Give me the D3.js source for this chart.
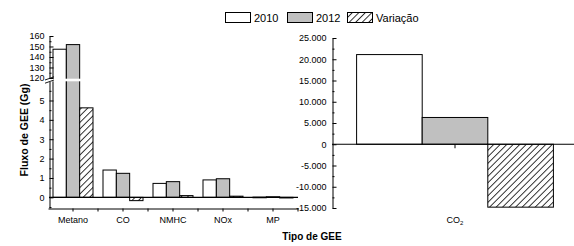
<!DOCTYPE html>
<html><head><meta charset="utf-8">
<script src="https://cdn.jsdelivr.net/npm/d3@7"></script>
<style>
body{margin:0;background:#fff}
text{font-family:"Liberation Sans",Arial,sans-serif;fill:#000}
</style>
</head><body>
<svg id="c" width="574" height="246"></svg>
<script>
// ---- data ----
const categories = ["Metano", "CO", "NMHC", "NOx", "MP"];
const seriesNames = ["2010", "2012", "Variação"];
const values2010 = [147.4, 1.41, 0.72, 0.90, 0.01];
const values2012 = [151.8, 1.24, 0.81, 0.96, 0.03];
const valuesVar  = [4.62, -0.17, 0.09, 0.06, -0.02];
const co2Category = ["CO2"];
const co2_2010 = [21100];
const co2_2012 = [6300];
const co2_var  = [-14800];
const upperTicks = [120, 130, 140, 150, 160];
const lowerTicks = [0, 1, 2, 3, 4, 5];
const co2Ticks = [-15000, -10000, -5000, 0, 5000, 10000, 15000, 20000, 25000];

const leftData = {"2010": values2010, "2012": values2012, "Variação": valuesVar};
const rightData = {"2010": co2_2010, "2012": co2_2012, "Variação": co2_var};

const svg = d3.select("#c");
svg.append("rect").attr("width",574).attr("height",246).attr("fill","#fff");
const defs = svg.append("defs");
const pat = defs.append("pattern").attr("id","hatch").attr("patternUnits","userSpaceOnUse")
  .attr("width",4.6).attr("height",4.6).attr("patternTransform","rotate(45)");
pat.append("rect").attr("width",4.6).attr("height",4.6).attr("fill","#fff");
pat.append("line").attr("x1",0.5).attr("y1",-1).attr("x2",0.5).attr("y2",6).attr("stroke","#000").attr("stroke-width",0.8);

const fills = {"2010":"#ffffff","2012":"#c0c0c0","Variação":"url(#hatch)"};

// ---- left panel ----
const xL = d3.scaleBand().domain(categories).range([48,298]).paddingInner(0.2).paddingOuter(0.1);
const xLs = d3.scaleBand().domain(seriesNames).range([0, xL.bandwidth()]);
const yUp = d3.scaleLinear().domain([119.5,160]).range([78.5,36]);
const yLo = d3.scaleLinear().domain([-0.55,5.98]).range([208,81.5]);
const loMax = yLo.domain()[1];

const gL = svg.append("g");
categories.forEach((c,i)=>{
  seriesNames.forEach(s=>{
    const v = leftData[s][i];
    const y0 = yLo(0);
    let top, bot;
    if (v > loMax) { top = yUp(v); bot = y0; }
    else { top = Math.min(yLo(v), y0); bot = Math.max(yLo(v), y0); }
    gL.append("rect").attr("x", xL(c)+xLs(s)).attr("y", top)
      .attr("width", xLs.bandwidth()).attr("height", Math.max(bot-top,0.6))
      .attr("fill", fills[s]).attr("stroke","#000").attr("stroke-width",1);
  });
});
// break gap
svg.append("rect").attr("x",40).attr("y",yUp(119.5)+0.2).attr("width",260)
  .attr("height",yLo(loMax)-yUp(119.5)-0.4).attr("fill","#fff");

// zero line left
svg.append("line").attr("x1",49).attr("x2",298).attr("y1",yLo(0)).attr("y2",yLo(0))
  .attr("stroke","#000").attr("stroke-width",1.2);

function styleAxis(g, fs){
  g.selectAll("path,line").attr("stroke","#000");
  g.selectAll("text").attr("font-size",fs).attr("font-family",'"Liberation Sans",Arial,sans-serif');
}
const gu = svg.append("g").attr("transform","translate(49.5,0)")
  .call(d3.axisLeft(yUp).tickValues(upperTicks).tickSize(-4).tickSizeOuter(0).tickPadding(5).tickFormat(d3.format("d")));
styleAxis(gu, 9);
const gum = svg.append("g").attr("transform","translate(49.5,0)")
  .call(d3.axisLeft(yUp).tickValues([125,135,145,155]).tickSize(-2).tickFormat(""));
gum.select(".domain").remove(); styleAxis(gum,9);

const gl = svg.append("g").attr("transform","translate(49.5,0)")
  .call(d3.axisLeft(yLo).tickValues(lowerTicks).tickSize(-4).tickSizeOuter(0).tickPadding(5).tickFormat(d3.format("d")));
styleAxis(gl, 9);
const glm = svg.append("g").attr("transform","translate(49.5,0)")
  .call(d3.axisLeft(yLo).tickValues([-0.5,0.5,1.5,2.5,3.5,4.5,5.5]).tickSize(-2).tickFormat(""));
glm.select(".domain").remove(); styleAxis(glm,9);

// break marks
const yb = (yUp(119.5)+yLo(loMax))/2;
[-1.6,1.6].forEach(d=>{
  svg.append("line").attr("x1",45).attr("x2",54).attr("y1",yb+d+1.6).attr("y2",yb+d-1.6)
    .attr("stroke","#000").attr("stroke-width",0.9);
});

// bottom axis left
const gb = svg.append("g").attr("transform",`translate(0,${208.5})`)
  .call(d3.axisBottom(xL).tickSize(3).tickSizeOuter(0).tickPadding(5));
styleAxis(gb, 9);
const bounds = categories.map(c=>xL(c)+xL.bandwidth()/2+xL.step()/2);
const gbm = svg.append("g").attr("transform",`translate(0,${208.5})`);
gbm.selectAll("line").data(bounds).join("line").attr("x1",d=>d).attr("x2",d=>d)
  .attr("y1",0).attr("y2",3).attr("stroke","#000");

// ---- right panel ----
const xR = d3.scaleBand().domain(co2Category).range([332,578]).paddingInner(0.2).paddingOuter(0.1);
const xRs = d3.scaleBand().domain(seriesNames).range([0, xR.bandwidth()]);
const yR = d3.scaleLinear().domain([-15000,25000]).range([208,38]);
const loc = d3.formatLocale({decimal:",", thousands:".", grouping:[3], currency:["",""], minus:"-"});
const fmt = loc.format(",");

co2Category.forEach((c,i)=>{
  seriesNames.forEach(s=>{
    const v = rightData[s][i];
    svg.append("rect").attr("x", xR(c)+xRs(s)).attr("y", Math.min(yR(v),yR(0)))
      .attr("width", xRs.bandwidth()).attr("height", Math.abs(yR(v)-yR(0)))
      .attr("fill", fills[s]).attr("stroke","#000").attr("stroke-width",1);
  });
});
svg.append("line").attr("x1",332).attr("x2",574).attr("y1",yR(0)).attr("y2",yR(0))
  .attr("stroke","#000").attr("stroke-width",1.2);
const gr = svg.append("g").attr("transform","translate(332.5,0)")
  .call(d3.axisLeft(yR).tickValues(co2Ticks).tickSize(-4).tickSizeOuter(0).tickPadding(6).tickFormat(fmt));
styleAxis(gr, 9);
const grm = svg.append("g").attr("transform","translate(332.5,0)")
  .call(d3.axisLeft(yR).tickValues(d3.range(-12500,25000,5000)).tickSize(-2).tickFormat(""));
grm.select(".domain").remove(); styleAxis(grm,9);

co2Category.forEach(c=>{
  const cx = xR(c)+xR.bandwidth()/2;
  svg.append("line").attr("x1",cx).attr("x2",cx).attr("y1",yR(0)).attr("y2",yR(0)+4).attr("stroke","#000");
  const t = svg.append("text").attr("x",cx).attr("y",223).attr("text-anchor","middle").attr("font-size",9);
  t.append("tspan").text("CO");
  t.append("tspan").attr("font-size",6).attr("dy",2).text("2");
});

// ---- titles ----
svg.append("text").attr("x",312).attr("y",239.5).attr("text-anchor","middle")
  .attr("font-size",10).attr("font-weight","bold").text("Tipo de GEE");
svg.append("text").attr("transform","translate(27.5,130) rotate(-90)").attr("text-anchor","middle")
  .attr("font-size",10.5).attr("font-weight","bold").text("Fluxo de GEE (Gg)");

// ---- legend ----
const legX = [225.5, 287.5, 347.5];
seriesNames.forEach((s,i)=>{
  svg.append("rect").attr("x",legX[i]).attr("y",12.5).attr("width",25).attr("height",10)
    .attr("fill",fills[s]).attr("stroke","#000").attr("stroke-width",1);
  svg.append("text").attr("x",legX[i]+28.5).attr("y",21.7).attr("font-size",11).text(s);
});
</script>
</body></html>
